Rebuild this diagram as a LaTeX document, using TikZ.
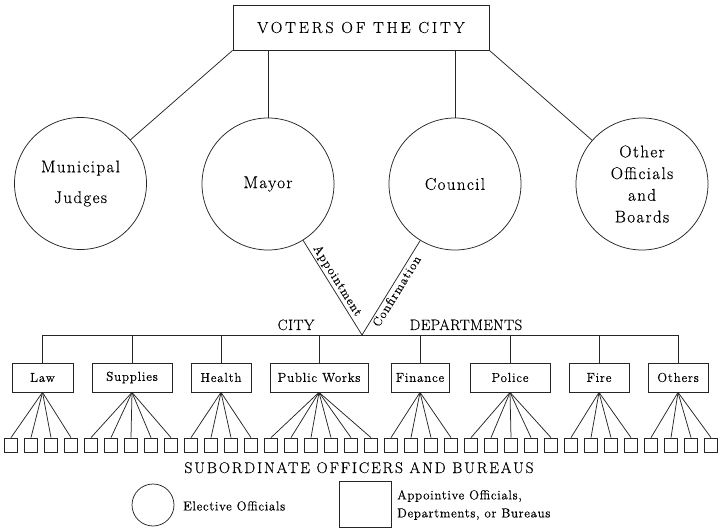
\documentclass[tikz,border=0pt]{standalone}
\usepackage{fontspec}
\setmainfont{Latin Modern Roman}[FakeBold=0.4]
\newcommand\circfont{\fontsize{17}{21.7}\selectfont\addfontfeature{LetterSpace=8}}
\newcommand\deptfont{\fontsize{13}{16}\selectfont\addfontfeature{LetterSpace=6}}
\newcommand\slopefont{\fontsize{12.5}{14}\selectfont\addfontfeature{LetterSpace=8}}
\newcommand\legfont{\fontsize{13}{18}\selectfont\addfontfeature{LetterSpace=5}}
\tikzset{
  conn/.style={draw=black!85, line width=0.75pt},
  elect/.style={circle, draw=black!85, line width=0.75pt, minimum size=132pt, inner sep=0pt, align=center, font=\circfont},
  dept/.style={rectangle, draw=black!85, line width=0.75pt, minimum height=29pt, inner sep=0pt, font=\deptfont},
  subbox/.style={rectangle, draw=black!85, line width=0.75pt, minimum width=12.5pt, minimum height=14pt, inner sep=0pt},
  lbl/.style={inner sep=0pt}
}
\begin{document}
\begin{tikzpicture}[x=1pt,y=-1pt]
\useasboundingbox (0,0) rectangle (720,529);
% top
\node[rectangle, draw=black!85, line width=0.75pt, minimum width=256pt, minimum height=45pt, inner sep=0pt,
  font={\fontsize{16}{18}\selectfont\addfontfeature{LetterSpace=18}}] (voters) at (361,27.5) {VOTERS OF THE CITY};
% elective circles
\node[elect] (mj) at (80.5,183.5) {Municipal\\[9pt]Judges};
\node[elect] (mayor) at (268,184) {Mayor};
\node[elect] (council) at (455,184) {Council};
\node[elect] (other) at (642,184) {Other\\Officials\\and\\Boards};
\draw[conn] (voters.south west) -- (mj);
\draw[conn] (mayor.north) -- (mayor.north |- voters.south);
\draw[conn] (council.north) -- (council.north |- voters.south);
\draw[conn] (voters.south east) -- (other);
% apex
\coordinate (apex) at (362,335);
\draw[conn] (mayor) -- node[sloped, above, pos=0.47, inner sep=1.5pt, font=\slopefont] {Appointment} (apex);
\draw[conn] (council) -- node[sloped, below, pos=0.5, inner sep=1.5pt, font=\slopefont] {Confirmation} (apex);
% departments
\node[dept, minimum width=61pt] (law) at (42.5,377.5) {Law};
\node[dept, minimum width=80pt] (sup) at (132,377.5) {Supplies};
\node[dept, minimum width=60pt] (hea) at (221,377.5) {Health};
\node[dept, minimum width=98pt] (pw) at (319,377.5) {Public Works};
\node[dept, minimum width=58pt] (fin) at (420,377.5) {Finance};
\node[dept, minimum width=80pt] (pol) at (510,377.5) {Police};
\node[dept, minimum width=60pt] (fire) at (599,377.5) {Fire};
\node[dept, minimum width=60pt] (oth) at (678,377.5) {Others};
\draw[conn] (law.north |- apex) -- (oth.north |- apex);
\foreach \d in {law,sup,hea,pw,fin,pol,fire,oth}
  \draw[conn] (\d.north) -- (\d.north |- apex);
\node[lbl, anchor=base, font={\fontsize{15}{18}\selectfont\addfontfeature{LetterSpace=3}}] (city) at (296,330) {CITY};
\node[lbl, anchor=base, font={\fontsize{15}{18}\selectfont\addfontfeature{LetterSpace=3}}] (deps) at (466,330) {DEPARTMENTS};
% subordinate squares
\foreach \i in {1,...,36}
  \node[subbox] (s\i) at ({11+20*(\i-1)},445) {};
\foreach \d/\a/\b in {law/1/4, sup/5/9, hea/10/13, pw/14/19, fin/20/23, pol/24/28, fire/29/32, oth/33/36}
  \foreach \i in {\a,...,\b}
    \draw[conn] (\d.south) -- (s\i.north);
\node[lbl, anchor=base, font={\fontsize{15.5}{18}\selectfont\addfontfeature{LetterSpace=12}}] (subl) at (359,473) {SUBORDINATE OFFICERS AND BUREAUS};
% legend
\node[circle, draw=black!85, line width=0.75pt, minimum size=42pt, inner sep=0pt] (legc) at (153,505) {};
\node[lbl, anchor=west, font=\legfont] (legct) at (183,506) {Elective Officials};
\node[rectangle, draw=black!85, line width=0.75pt, minimum width=52pt, minimum height=46pt, inner sep=0pt] (legr) at (365,504) {};
\node[lbl, anchor=west, align=left, font=\legfont] (legrt) at (397,505) {Appointive Officials,\\Departments, or Bureaus};
\end{tikzpicture}
\end{document}
